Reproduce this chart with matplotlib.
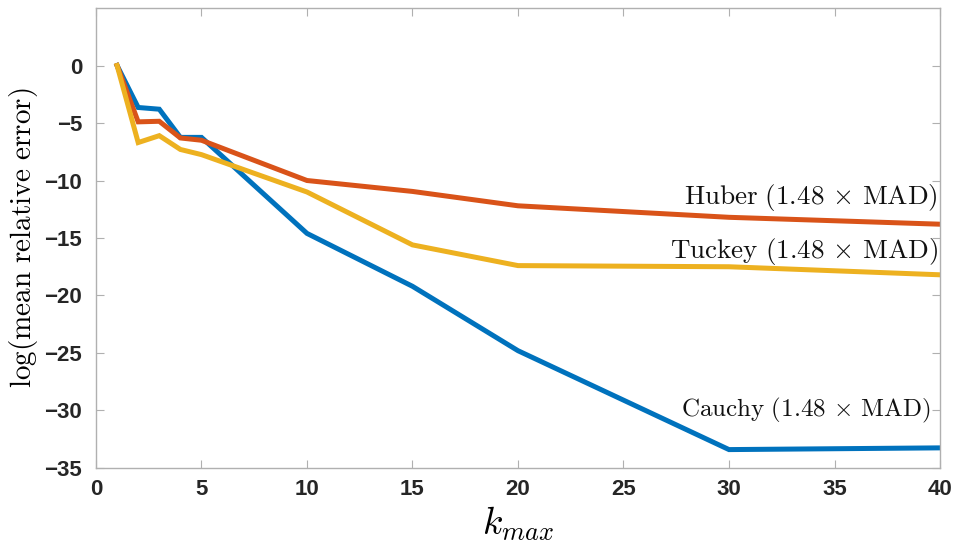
import matplotlib.pyplot as plt

plt.rcParams['mathtext.fontset'] = 'cm'
plt.rcParams['font.family'] = ['Liberation Sans Narrow', 'Liberation Sans', 'DejaVu Sans']

# values of k_max and log of the mean relative error per estimator
k_max = [1, 2, 3, 4, 5, 10, 15, 20, 30, 40]
cauchy = [0, -3.65, -3.8, -6.25, -6.25, -14.6, -19.2, -24.8, -33.4, -33.25]
huber = [0, -4.9, -4.85, -6.3, -6.5, -10.0, -10.95, -12.2, -13.2, -13.8]
tuckey = [0, -6.7, -6.1, -7.3, -7.75, -11.0, -15.6, -17.4, -17.5, -18.2]

fig = plt.figure(figsize=(9.55, 5.45), dpi=100)
ax = fig.add_axes([0.1005, 0.1413, 0.8838, 0.844])

ax.plot(k_max, cauchy, color='#0072BD', lw=3.6, solid_joinstyle='miter')
ax.plot(k_max, huber, color='#D95319', lw=3.6, solid_joinstyle='miter')
ax.plot(k_max, tuckey, color='#EDB120', lw=3.6, solid_joinstyle='miter')

ax.set_xlim(0, 40)
ax.set_ylim(-35, 5)
ax.set_xticks(range(0, 41, 5))
ax.set_yticks(range(-35, 1, 5))

for s in ax.spines.values():
    s.set_color('#b0b0b0')
    s.set_linewidth(1.0)
ax.tick_params(direction='in', length=6, width=0.8, color='#b0b0b0',
               top=True, right=True, labelsize=16, labelcolor='#262626')
ax.tick_params(axis='y', pad=10)
ax.tick_params(axis='x', pad=8)
for lab in ax.get_xticklabels() + ax.get_yticklabels():
    lab.set_fontweight('bold')

ax.set_xlabel(r'$k_{max}$', fontsize=27, labelpad=3)
ax.set_ylabel(r'$\mathrm{log(mean\ relative\ error)}$', fontsize=21, labelpad=3)

ax.text(39.9, -11.45, r'$\mathrm{Huber}\ (1.48\,\times\,\mathrm{MAD})$',
        fontsize=19.5, ha='right', va='center', color='#111111')
ax.text(39.9, -16.2, r'$\mathrm{Tuckey}\ (1.48\,\times\,\mathrm{MAD})$',
        fontsize=19.5, ha='right', va='center', color='#111111')
ax.text(39.55, -30.0, r'$\mathrm{Cauchy}\ (1.48\,\times\,\mathrm{MAD})$',
        fontsize=18, ha='right', va='center', color='#111111')

fig.savefig('out.png', dpi=100)
